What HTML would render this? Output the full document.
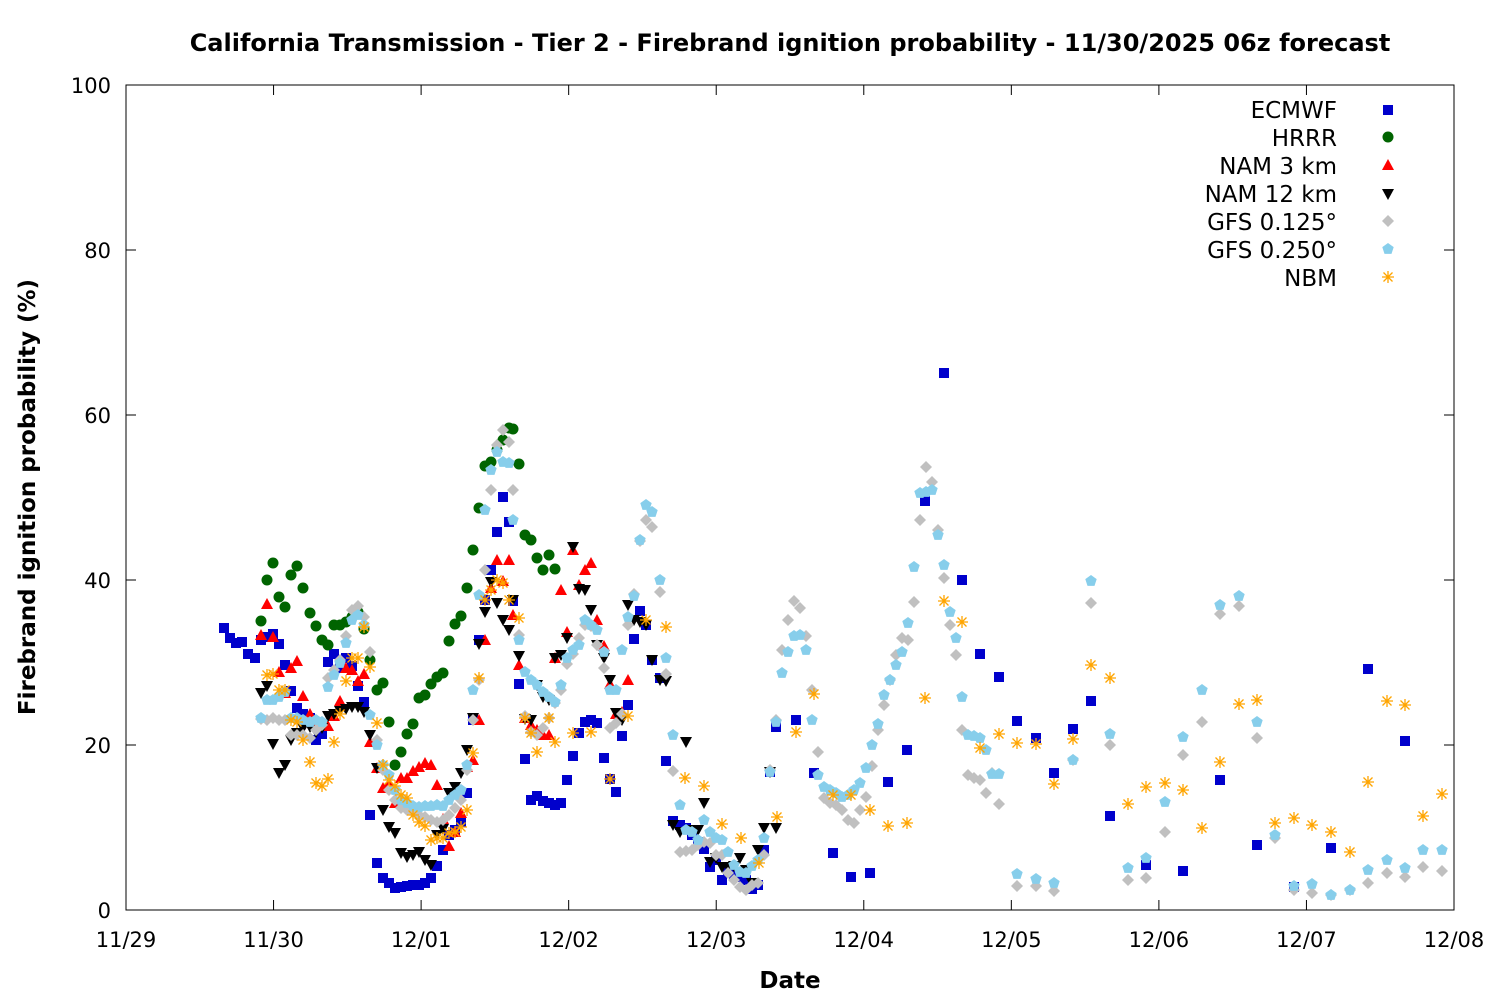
<!DOCTYPE html>
<html><head><meta charset="utf-8"><style>
html,body{margin:0;padding:0;background:#fff;}
svg{display:block;font-family:"DejaVu Sans","Liberation Sans",sans-serif;}
</style></head><body>
<svg id="s" width="1500" height="1000" xmlns="http://www.w3.org/2000/svg">
<rect width="1500" height="1000" fill="#fff"/>
<text x="790" y="51" font-size="24" font-weight="bold" text-anchor="middle">California Transmission - Tier 2 - Firebrand ignition probability - 11/30/2025 06z forecast</text>
<text x="790" y="988" font-size="23" font-weight="bold" text-anchor="middle">Date</text>
<text transform="translate(35,497) rotate(-90)" font-size="23" font-weight="bold" text-anchor="middle">Firebrand ignition probability (%)</text>
<g id="axes" stroke="#000" stroke-width="1" fill="none">
<rect x="126" y="85" width="1328" height="825"/>
</g>
<g id="ticks" font-size="21" fill="#000"></g>
<g id="pts"></g>
<g font-size="23" text-anchor="end" fill="#000">
<text x="1337" y="118">ECMWF</text>
<text x="1337" y="146">HRRR</text>
<text x="1337" y="174">NAM 3 km</text>
<text x="1337" y="202">NAM 12 km</text>
<text x="1337" y="230">GFS 0.125°</text>
<text x="1337" y="258">GFS 0.250°</text>
<text x="1337" y="286">NBM</text>
</g>
</svg>
<script>
var NS="http://www.w3.org/2000/svg";
function el(t,a,p){var e=document.createElementNS(NS,t);for(var k in a)e.setAttribute(k,a[k]);(p||document.getElementById('pts')).appendChild(e);return e;}
var T=document.getElementById('ticks');
for(var i=0;i<=5;i++){var y=910-i*165;
 el('line',{x1:126,y1:y,x2:136,y2:y,stroke:'#000'},T);el('line',{x1:1454,y1:y,x2:1444,y2:y,stroke:'#000'},T);
 var t=el('text',{x:111,y:y+8,'text-anchor':'end'},T);t.textContent=(i*20);}
var L=['11/29','11/30','12/01','12/02','12/03','12/04','12/05','12/06','12/07','12/08'];
for(var i=0;i<10;i++){var x=126+i*1328/9;
 el('line',{x1:x,y1:910,x2:x,y2:900,stroke:'#000'},T);el('line',{x1:x,y1:85,x2:x,y2:95,stroke:'#000'},T);
 var t=el('text',{x:x,y:947,'text-anchor':'middle'},T);t.textContent=L[i];}
function sq(x,y,c){el('rect',{x:x-5,y:y-5,width:10,height:10,fill:c});}
function ci(x,y,c){el('circle',{cx:x,cy:y,r:5.5,fill:c});}
function tu(x,y,c){el('polygon',{points:(x-6)+','+(y+5)+' '+(x+6)+','+(y+5)+' '+x+','+(y-6),fill:c});}
function td(x,y,c){el('polygon',{points:(x-6)+','+(y-5)+' '+(x+6)+','+(y-5)+' '+x+','+(y+6),fill:c});}
function di(x,y,c){el('polygon',{points:x+','+(y-6)+' '+(x+6)+','+y+' '+x+','+(y+6)+' '+(x-6)+','+y,fill:c});}
function pe(x,y,c){var p=[];for(var k=0;k<5;k++){var a=-Math.PI/2+k*2*Math.PI/5;p.push((x+6*Math.cos(a)).toFixed(1)+','+(y+6*Math.sin(a)).toFixed(1));}el('polygon',{points:p.join(' '),fill:c});}
function as(x,y,c){var d='M'+(x-6)+' '+y+'h12M'+x+' '+(y-6)+'v12M'+(x-4.5)+' '+(y-4.5)+'l9 9M'+(x-4.5)+' '+(y+4.5)+'l9 -9';el('path',{d:d,stroke:c,'stroke-width':1.3,fill:'none'});}
function draw(f,c,a){for(var i=0;i<a.length;i+=2)f(a[i],a[i+1],c);}
var E=[224,628,230,638,236,643,242,642,248,654,255,658,261,640,267,637,273,634,279,644,285,665,291,691,297,708,303,714,310,718,316,740,322,734,328,662,334,654,340,668,346,658,352,666,358,686,364,702,370,815,377,863,383,878,389,883,395,888,401,887,407,886,413,885,419,885,425,883,431,878,437,866,443,850,449,835,455,830,461,822,467,793,473,720,479,640,485,600,491,570,497,532,503,497,509,522,513,601,519,684,525,759,531,800,537,796,543,801,549,803,555,805,561,803,567,780,573,756,579,733,585,722,591,720,597,723,604,758,610,779,616,792,622,736,628,705,634,639,640,611,646,625,652,660,660,678,666,761,673,821,680,825,686,828,692,835,698,842,704,849,710,867,716,860,722,880,728,870,734,875,740,877,746,880,752,889,758,885,764,850,770,772,776,727,796,720,814,773,833,853,851,877,870,873,888,782,907,750,925,501,944,373,962,580,980,654,999,677,1017,721,1036,738,1054,773,1073,729,1091,701,1110,816,1146,865,1183,871,1220,780,1257,845,1294,887,1331,848,1368,669,1405,741];
var H=[261,621,267,580,273,563,279,597,285,607,291,575,297,566,303,588,310,613,316,626,322,640,328,645,334,625,340,625,346,622,352,617,358,612,364,629,370,660,377,690,383,683,389,722,395,765,401,752,407,734,413,724,419,698,425,695,431,684,437,677,443,673,449,641,455,624,461,616,467,588,473,550,479,508,485,466,491,462,497,450,503,440,509,428,513,429,519,464,525,535,531,540,537,558,543,570,549,555,555,569];
var N3=[261,635,267,604,273,637,279,672,285,693,291,668,297,661,303,696,310,714,316,722,322,722,328,726,334,716,340,701,346,668,352,670,358,681,364,674,370,742,377,768,383,788,389,783,395,803,401,778,407,778,413,771,419,767,425,763,431,765,437,785,443,819,449,846,455,832,461,813,467,767,473,760,479,720,485,640,491,588,497,560,503,581,509,560,513,615,519,665,525,718,531,725,537,730,543,735,549,735,555,658,561,590,567,632,573,550,579,585,585,570,591,563,597,620,604,646,610,684,616,714,622,712,628,680];
var N12=[261,693,267,686,273,744,279,773,285,765,291,740,297,733,303,728,310,727,316,732,322,728,328,716,334,714,340,711,346,709,352,707,358,707,364,712,370,735,377,768,383,810,389,827,395,833,401,853,407,857,413,855,419,852,425,860,431,865,437,835,443,829,449,793,455,787,461,773,467,750,473,718,479,644,485,612,491,582,497,603,503,620,509,630,513,600,519,656,525,719,531,720,537,685,543,697,549,700,555,658,561,655,567,638,573,547,579,589,585,590,591,610,597,645,604,658,610,680,616,713,622,720,628,605,634,620,640,622,646,625,652,660,660,680,666,681,673,825,680,832,686,742,692,830,698,830,704,803,710,862,716,858,722,867,728,867,734,866,740,858,746,870,752,883,758,850,764,828,770,772,776,828];
var G1=[261,719,267,720,273,718,279,720,285,720,291,735,297,735,303,735,310,738,316,730,322,725,328,678,334,670,340,660,346,636,352,610,358,606,364,617,370,652,377,740,383,770,389,790,395,800,401,808,407,810,413,812,419,815,425,817,431,820,437,822,443,820,449,815,455,808,461,800,467,770,473,720,479,680,485,570,491,490,497,445,503,430,509,442,513,490,519,635,525,716,531,732,537,735,543,728,549,718,555,703,561,690,567,664,573,654,579,638,585,625,591,626,597,645,604,668,610,728,616,723,622,714,628,625,634,594,640,541,646,520,652,527,660,592,666,674,673,771,680,852,686,851,692,850,698,845,704,842,710,843,716,855,722,855,728,873,734,880,740,887,746,890,752,885,758,883,764,855,770,770,776,720,782,650,788,620,794,601,800,608,806,636,812,690,818,752,824,798,830,803,836,805,842,810,848,820,854,823,860,810,866,797,872,766,878,730,884,705,890,680,896,655,902,638,908,640,914,602,920,520,926,467,932,482,938,530,944,578,950,625,956,655,962,730,968,775,974,778,980,780,986,793,992,773,999,804,1017,886,1036,886,1054,891,1073,760,1091,603,1110,745,1128,880,1146,878,1165,832,1183,755,1202,722,1220,614,1239,606,1257,738,1275,838,1294,890,1312,893,1331,895,1350,890,1368,883,1387,873,1405,877,1423,867,1442,871];
var G2=[261,718,267,700,273,700,279,697,285,692,291,718,297,718,303,720,310,722,316,720,322,722,328,687,334,675,340,663,346,643,352,620,358,615,364,625,370,715,377,745,383,765,389,775,395,790,401,800,407,803,413,806,419,807,425,806,431,806,437,805,443,806,449,800,455,795,461,790,467,765,473,690,479,595,485,510,491,470,497,452,503,462,509,463,513,520,519,640,525,672,531,680,537,685,543,692,549,697,555,702,561,685,567,658,573,650,579,645,585,620,591,625,597,630,604,652,610,690,616,690,622,650,628,617,634,596,640,540,646,505,652,512,660,580,666,658,673,735,680,805,686,830,692,832,698,840,704,820,710,832,716,838,722,840,728,852,734,865,740,872,746,873,752,866,758,860,764,838,770,772,776,722,782,673,788,652,794,636,800,635,806,650,812,720,818,775,824,787,830,790,836,793,842,797,848,795,854,790,860,783,866,768,872,745,878,724,884,695,890,680,896,665,902,652,908,623,914,567,920,493,926,492,932,490,938,535,944,565,950,612,956,638,962,697,968,735,974,736,980,738,986,750,992,774,999,774,1017,874,1036,879,1054,883,1073,760,1091,581,1110,734,1128,868,1146,858,1165,802,1183,737,1202,690,1220,605,1239,596,1257,722,1275,835,1294,886,1312,884,1331,895,1350,890,1368,870,1387,860,1405,868,1423,850,1442,850];
var NB=[267,675,273,674,279,690,285,690,291,720,297,722,303,740,310,762,316,783,322,786,328,779,334,742,340,714,346,681,352,658,358,658,364,627,370,667,377,723,383,765,389,780,395,786,401,795,407,798,413,815,419,822,425,826,431,840,437,838,443,838,449,833,455,832,461,827,467,810,473,753,479,678,485,600,491,590,497,580,503,583,509,600,519,618,525,718,531,733,537,752,549,718,555,742,573,733,591,732,610,779,628,716,646,620,666,627,685,778,704,786,722,824,741,838,759,863,777,817,796,732,814,694,833,795,851,795,870,810,888,826,907,823,925,698,944,601,962,622,980,748,999,734,1017,743,1036,744,1054,784,1073,739,1091,665,1110,678,1128,804,1146,787,1165,783,1183,790,1202,828,1220,762,1239,704,1257,700,1275,823,1294,818,1312,825,1331,832,1350,852,1368,782,1387,701,1405,705,1423,816,1442,794];
draw(sq,'#0000cc',E);draw(ci,'#006400',H);draw(tu,'#ff0000',N3);draw(td,'#000000',N12);
draw(di,'#c0c0c0',G1);draw(pe,'#87ceeb',G2);draw(as,'#ffa500',NB);
sq(1388,110,'#0000cc');ci(1388,137,'#006400');tu(1388,165,'#ff0000');td(1388,194,'#000');di(1388,221,'#c0c0c0');pe(1388,249,'#87ceeb');as(1388,277,'#ffa500');
</script>
</body></html>
